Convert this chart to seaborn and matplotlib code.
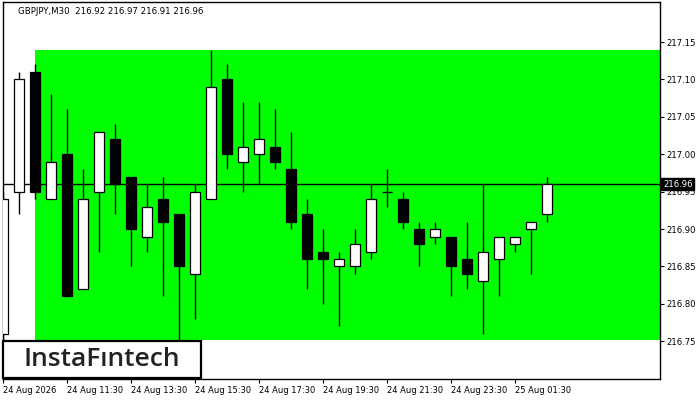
import numpy as np
import pandas as pd
import seaborn as sns
import matplotlib.pyplot as plt
from matplotlib.patches import Rectangle
from matplotlib.transforms import blended_transform_factory

# GBPJPY M30 candles, 24 Aug 09:30 -> 25 Aug 02:30
opens = [216.76, 216.95, 217.11, 216.94, 217.00, 216.82, 216.95, 217.02, 216.97, 216.89,
         216.94, 216.92, 216.84, 216.94, 217.10, 216.99, 217.00, 217.01, 216.98, 216.92,
         216.87, 216.85, 216.85, 216.87, 216.95, 216.94, 216.90, 216.89, 216.89, 216.86,
         216.83, 216.86, 216.88, 216.90, 216.92]
highs = [216.95, 217.11, 217.12, 217.08, 217.06, 216.98, 217.03, 217.04, 216.97, 216.96,
         216.97, 216.92, 216.96, 217.14, 217.12, 217.07, 217.07, 217.06, 217.03, 216.94,
         216.90, 216.87, 216.90, 216.96, 216.98, 216.95, 216.91, 216.91, 216.89, 216.91,
         216.96, 216.89, 216.89, 216.91, 216.97]
lows = [216.75, 216.92, 216.94, 216.94, 216.81, 216.82, 216.87, 216.92, 216.85, 216.87,
        216.81, 216.75, 216.78, 216.94, 216.98, 216.95, 216.96, 216.98, 216.90, 216.82,
        216.80, 216.77, 216.84, 216.86, 216.93, 216.90, 216.85, 216.88, 216.81, 216.82,
        216.76, 216.81, 216.87, 216.84, 216.91]
closes = [216.94, 217.10, 216.95, 216.99, 216.81, 216.94, 217.03, 216.96, 216.90, 216.93,
          216.91, 216.85, 216.95, 217.09, 217.00, 217.01, 217.02, 216.99, 216.91, 216.86,
          216.86, 216.86, 216.88, 216.94, 216.95, 216.91, 216.88, 216.90, 216.85, 216.84,
          216.87, 216.89, 216.89, 216.91, 216.96]

time_labels = ["24 Aug 2026", "24 Aug 11:30", "24 Aug 13:30", "24 Aug 15:30", "24 Aug 17:30",
               "24 Aug 19:30", "24 Aug 21:30", "24 Aug 23:30", "25 Aug 01:30"]
price_ticks = [216.75, 216.80, 216.85, 216.90, 216.95, 217.00, 217.05, 217.10, 217.15]

zone_top = 217.14
zone_bottom = 216.752
zone_start = 2          # candle index where the rectangle starts
last_price = 216.96
header = "GBPJPY,M30  216.92 216.97 216.91 216.96"

df = pd.DataFrame({"open": opens, "high": highs, "low": lows, "close": closes})
df["idx"] = np.arange(len(df))
df["bottom"] = df[["open", "close"]].min(axis=1)
df["height"] = (df["close"] - df["open"]).abs()
df["color"] = np.where(df["close"] >= df["open"], "white", "black")

sns.set_style("white")
plt.rcParams['font.family'] = ['DejaVu Sans']

fig = plt.figure(figsize=(7, 4), dpi=100)
ax = fig.add_axes([3 / 700, 21 / 400, 657 / 700, 377 / 400])

xmax = 657 / 16
ax.set_xlim(0, xmax)
ax.set_ylim(216.6996, 217.2035)

# green zone
ax.fill_between([zone_start, xmax], zone_bottom, zone_top, color='#00ff00', lw=0, zorder=1)
# bid line
ax.axhline(last_price, color='black', lw=1, zorder=2)

# candles
ax.vlines(df["idx"], df["low"], df["high"], color='black', lw=1, zorder=3)
ax.bar(df["idx"], df["height"], bottom=df["bottom"], width=0.62,
       color=df["color"], edgecolor='black', linewidth=0.9, zorder=4)

for s in ax.spines.values():
    s.set_color('black')
    s.set_linewidth(1)

ax.yaxis.tick_right()
ax.set_yticks(price_ticks)
ax.set_yticklabels([f"{p:.2f}" for p in price_ticks])
ax.tick_params(axis='y', right=True, left=False, length=3, width=0.8, pad=1.5,
               labelsize=6.1, colors='black')
ax.set_xticks(np.arange(0, 33, 4))
ax.set_xticklabels(time_labels, ha='left')
ax.tick_params(axis='x', bottom=True, length=3, width=0.8, pad=2,
               labelsize=6.0, colors='black')

# current price tag
trans = blended_transform_factory(ax.transAxes, ax.transData)
ax.text(1 + 3 / 657, last_price, f"{last_price:.2f}", transform=trans, ha='left', va='center',
        fontsize=6.1, color='white', zorder=10, clip_on=False,
        bbox=dict(boxstyle='square,pad=0.18', fc='black', ec='black'))

fig.text(18 / 700, 1 - 11 / 400, header, fontsize=6.2, va='center', ha='left', color='black')

# logo box
fig.patches.append(Rectangle((3 / 700, 22 / 400), 198 / 700, 37 / 400, transform=fig.transFigure,
                             fc='white', ec='black', lw=1.6, zorder=20))
fig.text(102 / 700, 1 - 359 / 400, "InstaF\u0131ntech", fontsize=19, color='#222222',
         family=['Open Sans', 'DejaVu Sans'], weight='semibold',
         ha='center', va='center', zorder=21)

fig.savefig("out.png", dpi=100)
